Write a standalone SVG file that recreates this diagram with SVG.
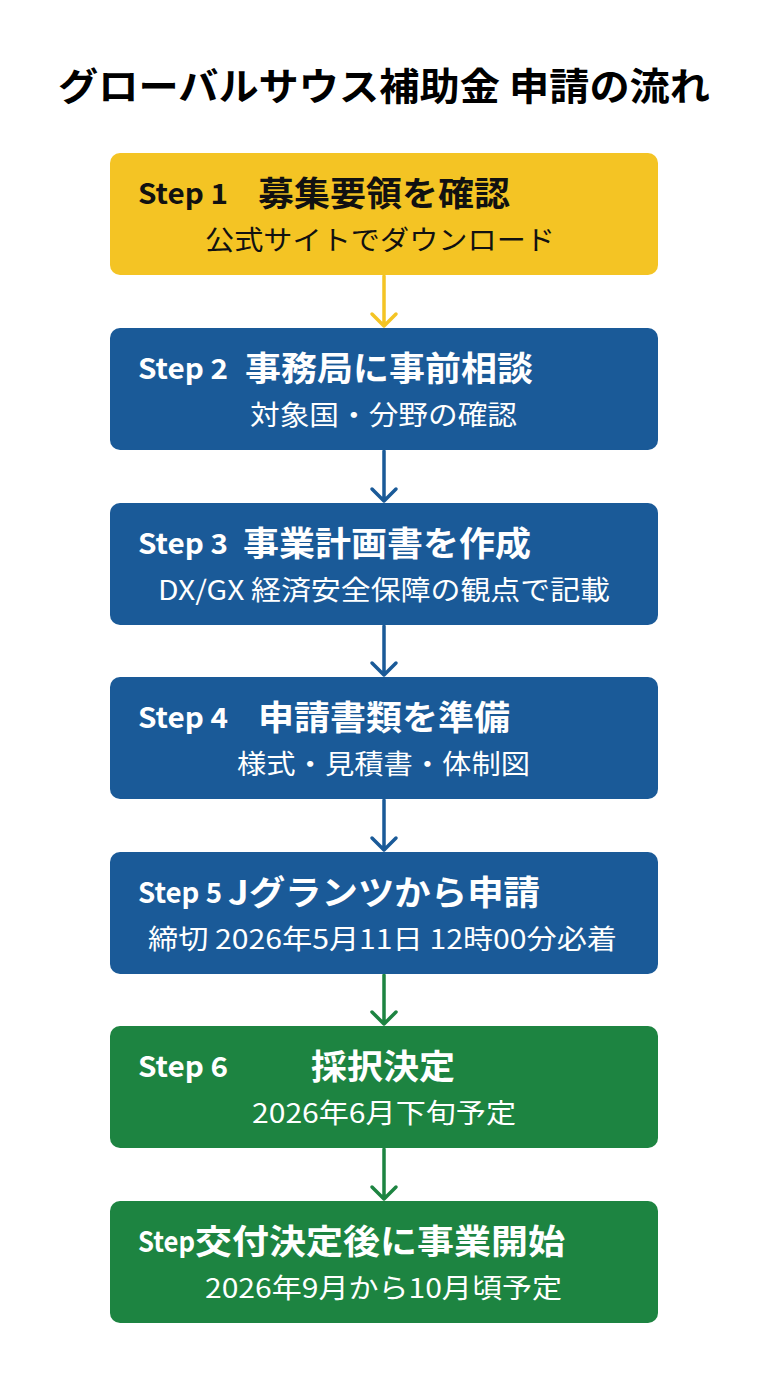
<svg xmlns="http://www.w3.org/2000/svg" width="768" height="1376" viewBox="0 0 768 1376">
<style>
text{font-family:"Noto Sans CJK JP","Noto Sans",sans-serif}
.title{font-size:38px;font-weight:700;fill:#000}
.step{font-size:28px;font-weight:700}
.head{font-size:34px;font-weight:700}
.sub{font-size:27px;font-weight:400}
.y rect{fill:#F4C424}.y text{fill:#111}
.b rect{fill:#1A5A98}.b text{fill:#fff}
.g rect{fill:#1D8441}.g text{fill:#fff}
.c path{fill:none;stroke-width:3.5;stroke-linecap:round;stroke-linejoin:round}
</style>
<rect width="768" height="1376" fill="#fff"/>
<text class="title" x="384" y="100" text-anchor="middle" textLength="652" lengthAdjust="spacingAndGlyphs">グローバルサウス補助金 申請の流れ</text>
<g id="connectors" class="c">
<path d="M384 276V326M372 314L384 326L396 314" stroke="#F4C424"/>
<path d="M384 451V501M372 489L384 501L396 489" stroke="#1A5A98"/>
<path d="M384 626V675M372 663L384 675L396 663" stroke="#1A5A98"/>
<path d="M384 800V850M372 838L384 850L396 838" stroke="#1A5A98"/>
<path d="M384 975V1024M372 1012L384 1024L396 1012" stroke="#1D8441"/>
<path d="M384 1149V1199M372 1187L384 1199L396 1187" stroke="#1D8441"/>
</g>
<g id="step1" class="y">
<rect x="110" y="153" width="548" height="122" rx="10"/>
<text class="step" x="138" y="204" textLength="90" lengthAdjust="spacingAndGlyphs">Step 1</text>
<text class="head" x="258" y="206" textLength="252" lengthAdjust="spacingAndGlyphs">募集要領を確認</text>
<text class="sub" x="205" y="250" textLength="350" lengthAdjust="spacingAndGlyphs">公式サイトでダウンロード</text>
</g>
<g id="step2" class="b">
<rect x="110" y="328" width="548" height="122" rx="10"/>
<text class="step" x="138" y="379" textLength="90" lengthAdjust="spacingAndGlyphs">Step 2</text>
<text class="head" x="245" y="381" textLength="288" lengthAdjust="spacingAndGlyphs">事務局に事前相談</text>
<text class="sub" x="250" y="425" textLength="267" lengthAdjust="spacingAndGlyphs">対象国・分野の確認</text>
</g>
<g id="step3" class="b">
<rect x="110" y="503" width="548" height="122" rx="10"/>
<text class="step" x="138" y="554" textLength="90" lengthAdjust="spacingAndGlyphs">Step 3</text>
<text class="head" x="243" y="556" textLength="288" lengthAdjust="spacingAndGlyphs">事業計画書を作成</text>
<text class="sub" x="158" y="600" textLength="452" lengthAdjust="spacingAndGlyphs">DX/GX 経済安全保障の観点で記載</text>
</g>
<g id="step4" class="b">
<rect x="110" y="677" width="548" height="122" rx="10"/>
<text class="step" x="138" y="728" textLength="90" lengthAdjust="spacingAndGlyphs">Step 4</text>
<text class="head" x="258" y="730" textLength="252" lengthAdjust="spacingAndGlyphs">申請書類を準備</text>
<text class="sub" x="237" y="774" textLength="293" lengthAdjust="spacingAndGlyphs">様式・見積書・体制図</text>
</g>
<g id="step5" class="b">
<rect x="110" y="852" width="548" height="122" rx="10"/>
<text class="step" x="138" y="903" textLength="84" lengthAdjust="spacingAndGlyphs">Step 5</text>
<text class="head" x="228" y="905" textLength="312" lengthAdjust="spacingAndGlyphs">Jグランツから申請</text>
<text class="sub" x="148" y="949" textLength="469" lengthAdjust="spacingAndGlyphs">締切 2026年5月11日 12時00分必着</text>
</g>
<g id="step6" class="g">
<rect x="110" y="1026" width="548" height="122" rx="10"/>
<text class="step" x="138" y="1077" textLength="90" lengthAdjust="spacingAndGlyphs">Step 6</text>
<text class="head" x="311" y="1079" textLength="144" lengthAdjust="spacingAndGlyphs">採択決定</text>
<text class="sub" x="252" y="1123" textLength="264" lengthAdjust="spacingAndGlyphs">2026年6月下旬予定</text>
</g>
<g id="step7" class="g">
<rect x="110" y="1201" width="548" height="122" rx="10"/>
<text class="step" x="138" y="1252" textLength="57" lengthAdjust="spacingAndGlyphs">Step</text>
<text class="head" x="195" y="1254" textLength="370" lengthAdjust="spacingAndGlyphs">交付決定後に事業開始</text>
<text class="sub" x="205" y="1298" textLength="357" lengthAdjust="spacingAndGlyphs">2026年9月から10月頃予定</text>
</g>
</svg>
